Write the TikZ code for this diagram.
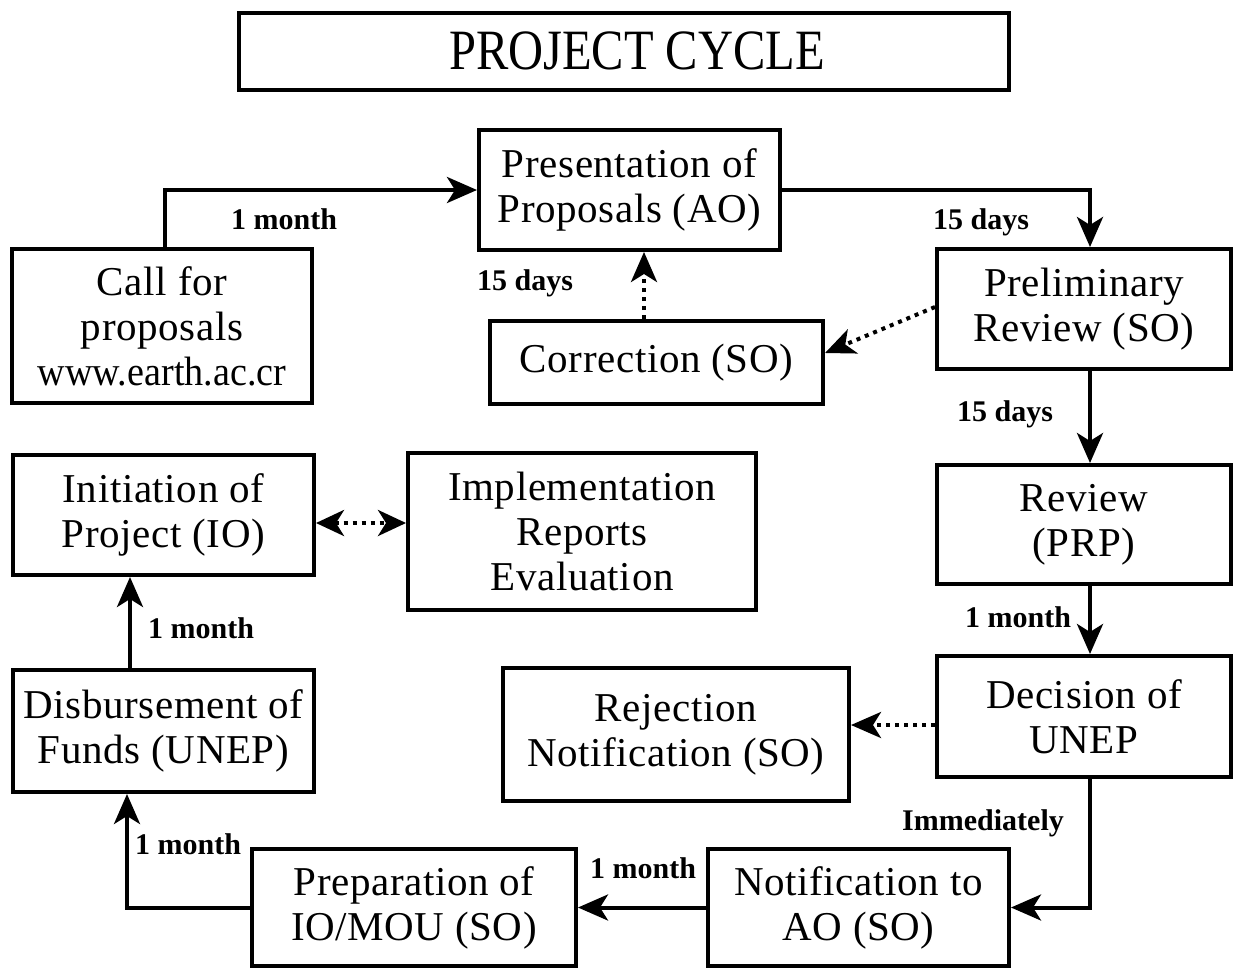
\documentclass[tikz,border=0pt]{standalone}
\usepackage{fontspec}
\setmainfont{Liberation Serif}
\newfontfamily\bodyfont[LetterSpace=1.5]{Liberation Serif}
\newfontfamily\condbody[FakeStretch=0.93]{Liberation Serif}
\newfontfamily\titlefont[FakeStretch=0.85]{Liberation Serif}
\usetikzlibrary{arrows.meta,calc}
\tikzset{
  blk/.style={draw, line width=4pt, align=center, inner sep=0pt,
    font=\bodyfont\fontsize{41}{45}\selectfont},
  lbl/.style={inner sep=0pt, anchor=base west, font=\bfseries\fontsize{30}{32}\selectfont},
  conn/.style={line width=4pt, -{Stealth[length=30pt,width=26pt,inset=8pt]}},
  dotconn/.style={conn, dash pattern=on 4pt off 5pt},
  dotboth/.style={line width=4pt, dash pattern=on 4pt off 5pt,
    {Stealth[length=28pt,width=26pt,inset=8pt]}-{Stealth[length=28pt,width=26pt,inset=8pt]}},
}
\begin{document}
\begin{tikzpicture}[x=1pt,y=-1pt]
\useasboundingbox (0,0) rectangle (1233,969);
% title
\node[draw, line width=4pt, minimum width=770pt, minimum height=77pt, inner sep=0pt,
  font=\titlefont\fontsize{57}{60}\selectfont] (title) at (624,51) {\kern26pt PROJECT CYCLE};
% boxes
\node[blk, minimum width=301pt, minimum height=120pt] (present) at (629.5,190) {Presentation of\\Proposals (AO)};
\node[blk, minimum width=300pt, minimum height=154pt] (call) at (162,326) {Call for\\proposals\\{\condbody www.earth.ac.cr}};
\node[blk, minimum width=333pt, minimum height=83pt] (corr) at (656.5,362.5) {Correction (SO)};
\node[blk, minimum width=294pt, minimum height=120pt] (prelim) at (1084,309) {Preliminary\\Review (SO)};
\node[blk, minimum width=294pt, minimum height=119pt] (review) at (1084,524.5) {Review\\(PRP)};
\node[blk, minimum width=294pt, minimum height=121pt] (decision) at (1084,716.5) {Decision of\\UNEP};
\node[blk, minimum width=346pt, minimum height=133pt] (reject) at (676,734.5) {Rejection\\Notification (SO)};
\node[blk, minimum width=301pt, minimum height=120pt] (init) at (163.5,515) {Initiation of\\Project (IO)};
\node[blk, minimum width=348pt, minimum height=157pt] (impl) at (582,531.5) {Implementation\\Reports\\Evaluation};
\node[blk, minimum width=301pt, minimum height=122pt] (disb) at (163.5,731) {Disbursement of\\Funds (UNEP)};
\node[blk, minimum width=324pt, minimum height=117pt] (prep) at (414,907.5) {Preparation of\\IO/MOU (SO)};
\node[blk, minimum width=301pt, minimum height=117pt] (notif) at (858.5,907.5) {Notification to\\AO (SO)};
% helper coordinates
\coordinate (rspine) at (1090,0);
\coordinate (lspine) at (127,0);
\coordinate (uspine) at (130,0);
\coordinate (cspine) at (644,0);
\coordinate (dy) at (0,523);
\coordinate (ry) at (0,725);
\coordinate (py) at (0,307);
\coordinate (cy) at (0,353);
% connectors
\draw[conn] ([xshift=3pt]call.north) |- (present.west);
\draw[conn] (present.east) -| (prelim.north -| rspine);
\draw[dotconn] (prelim.west |- py) -- (corr.east |- cy);
\draw[dotconn] (corr.north -| cspine) -- (present.south -| cspine);
\draw[conn] (prelim.south -| rspine) -- (review.north -| rspine);
\draw[conn] (review.south -| rspine) -- (decision.north -| rspine);
\draw[dotconn] (decision.west |- ry) -- (reject.east |- ry);
\draw[conn] (decision.south -| rspine) |- (notif.east);
\draw[conn] (notif.west) -- (prep.east);
\draw[conn] (prep.west) -| (disb.south -| lspine);
\draw[conn] (disb.north -| uspine) -- (init.south -| uspine);
\draw[dotboth] (init.east |- dy) -- (impl.west |- dy);
% labels
\node[lbl] (l1) at (231,229) {1 month};
\node[lbl] (l2) at (933,229) {15 days};
\node[lbl] (l3) at (477,290) {15 days};
\node[lbl] (l4) at (957,421) {15 days};
\node[lbl] (l5) at (965,627) {1 month};
\node[lbl] (l6) at (148,638) {1 month};
\node[lbl] (l7) at (902,830) {Immediately};
\node[lbl] (l8) at (590,878) {1 month};
\node[lbl] (l9) at (135,854) {1 month};
\end{tikzpicture}
\end{document}
